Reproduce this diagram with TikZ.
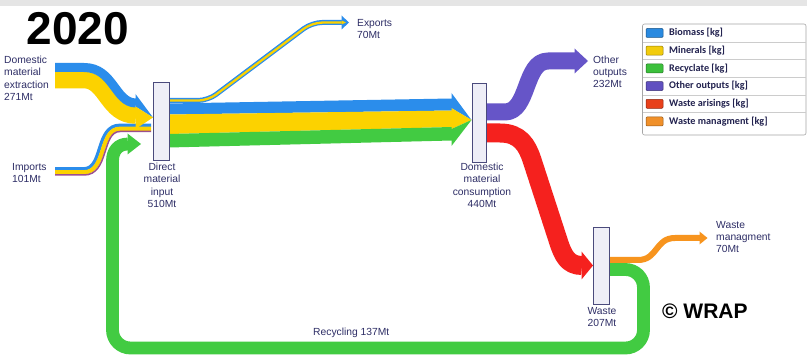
\documentclass[tikz,border=0pt]{standalone}
\usepackage{fontspec}
\setmainfont{Liberation Sans}
\newfontfamily\legfont{Carlito}
\definecolor{cblue}{HTML}{2B8DEB}
\definecolor{cyell}{HTML}{FCD200}
\definecolor{cgreen}{HTML}{42CB42}
\definecolor{cpurp}{HTML}{6655C8}
\definecolor{cimpp}{HTML}{9B4F8F}
\definecolor{cred}{HTML}{F5211E}
\definecolor{corange}{HTML}{F7941E}
\definecolor{ctext}{HTML}{2E2E66}
\definecolor{cboxf}{HTML}{EEEEF7}
\definecolor{cboxd}{HTML}{4A4A7C}
\definecolor{clegt}{HTML}{22224F}
\definecolor{lgblue}{HTML}{2A8AE0}
\definecolor{lgyell}{HTML}{F2CC0C}
\definecolor{lggreen}{HTML}{3CC03C}
\definecolor{lgpurp}{HTML}{6050C0}
\definecolor{lgred}{HTML}{E8401A}
\definecolor{lgorange}{HTML}{F0902A}
\begin{document}
\begin{tikzpicture}[x=1pt,y=-1pt,
  band/.style={line cap=butt, line join=round},
  procbox/.style={draw=cboxd, fill=cboxf, line width=0.9pt, inner sep=0pt},
  lbl/.style={text=ctext, font=\fontsize{10.3}{12.2}\selectfont, inner sep=0pt},
  legtxt/.style={text=clegt, font=\legfont\bfseries\fontsize{10.2}{11}\selectfont, inner sep=0pt, anchor=west},
  swatch/.style={line width=0.5pt, rounded corners=1pt}]
\useasboundingbox (0,0) rectangle (807,355);
\fill[white] (0,0) rectangle (807,355);
\fill[black!10] (0,0) rectangle (807,6.5);

% recycling loop
\draw[band, cgreen, line width=12.8pt] (609,269.5) -- (625.5,269.5) .. controls (635.5,269.5) and (643.5,277.5) .. (643.5,287.5) -- (643.5,330) .. controls (643.5,340) and (635.5,348) .. (625.5,348) -- (130.5,348) .. controls (120.5,348) and (112.5,340) .. (112.5,330) -- (112.5,161) .. controls (112.5,151) and (118,144) .. (128,144);
\fill[cgreen] (127.5,133.5) -- (141,144) -- (127.5,154.5) -- cycle;

% imports
\draw[band, cblue, line width=3.3pt] (55,168.75) -- (84,168.75) .. controls (103.25,168.75) and (95.25,125.25) .. (120,125.25) -- (151,125.25);
\draw[band, cyell, line width=4.2pt] (55,172.25) -- (84,172.25) .. controls (106.75,172.25) and (98.75,128.75) .. (120,128.75) -- (151,128.75);
\draw[band, cimpp, line width=1.5pt] (55,175) -- (84,175) .. controls (109.5,175) and (101.5,131.5) .. (120,131.5) -- (151,131.5);

% domestic extraction
\draw[band, cyell, line width=16.6pt] (55,80) -- (84,80) .. controls (106.3,80) and (107.3,115.5) .. (136,115.5);
\draw[band, cblue, line width=9pt] (55,67.5) -- (84,67.5) .. controls (113.8,67.5) and (114.8,103) .. (136,103);
\fill[cblue] (135.5,94) -- (153,117.5) -- (135.5,106.5) -- cycle;
\fill[cyell] (135.5,106.5) -- (153,117.5) -- (135.5,129) -- cycle;

% exports
\draw[band, cblue, line width=5pt, rounded corners=10pt] (169,100.5) -- (208,100.5) -- (312,22.5) -- (342,22.5);
\draw[band, cyell, line width=2.3pt, rounded corners=10pt] (169,100.6) -- (208,100.6) -- (312,22.6) -- (342,22.6);
\fill[cblue] (341.5,15.5) -- (349,22.5) -- (341.5,29.5) -- cycle;
\fill[cyell] (341.5,20.5) -- (346,22.5) -- (341.5,24.5) -- cycle;

% main flow DMI -> DMC
\fill[cblue] (169,103.5) -- (452,98.5) -- (452,110.5) -- (169,114.5) -- cycle;
\fill[cyell] (169,114.5) -- (452,110.5) -- (452,127) -- (169,134) -- cycle;
\fill[cgreen] (169,134) -- (452,127) -- (452,140.5) -- (169,147.5) -- cycle;
\fill[cblue] (451.5,93) -- (471.5,120) -- (451.5,108.1) -- cycle;
\fill[cyell] (451.5,108.1) -- (471.5,120) -- (451.5,129) -- cycle;
\fill[cgreen] (451.5,129) -- (471.5,120) -- (451.5,146) -- cycle;

% other outputs
\draw[band, cpurp, line width=17pt] (485.5,112) -- (505,112) .. controls (529,112) and (524,61) .. (548,61) -- (575,61);
\fill[cpurp] (574.5,48.5) -- (588,61) -- (574.5,73.5) -- cycle;

% waste arisings
\draw[band, cred, line width=19pt] (485.5,133) -- (500,133) .. controls (520,133) and (527,145) .. (532,160) -- (558,240) .. controls (563,256) and (568,265.5) .. (582,265.5);
\fill[cred] (581.5,251.5) -- (593,265.5) -- (581.5,279.5) -- cycle;

% waste management
\draw[band, corange, line width=6pt] (609,260) -- (638,260) .. controls (658,260) and (655,238) .. (675,238) -- (700,238);
\fill[corange] (699.5,231.5) -- (707.5,238) -- (699.5,244.5) -- cycle;

% process boxes
\node[procbox, minimum width=15.5pt, minimum height=78pt] (dmi) at (161.5,121) {};
\node[procbox, minimum width=14pt, minimum height=79pt] (dmc) at (479,122.5) {};
\node[procbox, minimum width=16pt, minimum height=77pt] (waste) at (601,265.5) {};

% labels
\node[lbl, align=left, anchor=north west] (lde) at (4,56) {Domestic\\material\\extraction\\271Mt};
\node[lbl, align=left, anchor=north west] (limp) at (12,163.5) {Imports\\101Mt};
\node[lbl, align=center, anchor=north] (ldmi) at (162,163) {Direct\\material\\input\\510Mt};
\node[lbl, align=left, anchor=north west] (lexp) at (357,19.5) {Exports\\70Mt};
\node[lbl, align=left, anchor=north west] (loth) at (593,55.5) {Other\\outputs\\232Mt};
\node[lbl, align=center, anchor=north] (ldmc) at (482,163) {Domestic\\material\\consumption\\440Mt};
\node[lbl, align=center, anchor=north] (lwst) at (602,307) {Waste\\207Mt};
\node[lbl, align=left, anchor=north west] (lwm) at (716,221) {Waste\\managment\\70Mt};
\node[lbl, anchor=west] (lrec) at (313,333) {Recycling 137Mt};
\node[font=\bfseries\fontsize{21}{24}\selectfont, anchor=west, inner sep=0pt] (wrap) at (662,311.5) {© WRAP};
\node[font=\bfseries\fontsize{46}{50}\selectfont, anchor=base west, inner sep=0pt] (year) at (26.5,45) {2020};

% legend
\draw[draw=black!35, fill=white, rounded corners=2pt, line width=0.6pt] (642.5,24) rectangle (806,135);
\foreach \yy in {41.9,59.6,77.3,95,112.7} \draw[black!20, line width=0.5pt] (643,\yy) -- (805.5,\yy);
\draw[swatch, fill=lgblue, draw=lgblue!60!black] (646,28.5) rectangle (663,37.5);
\node[legtxt] (lg1) at (669,33) {Biomass [kg]};
\draw[swatch, fill=lgyell, draw=lgyell!60!black] (646,46.2) rectangle (663,55.2);
\node[legtxt] (lg2) at (669,50.7) {Minerals [kg]};
\draw[swatch, fill=lggreen, draw=lggreen!60!black] (646,63.9) rectangle (663,72.9);
\node[legtxt] (lg3) at (669,68.4) {Recyclate [kg]};
\draw[swatch, fill=lgpurp, draw=lgpurp!60!black] (646,81.6) rectangle (663,90.6);
\node[legtxt] (lg4) at (669,86.1) {Other outputs [kg]};
\draw[swatch, fill=lgred, draw=lgred!60!black] (646,99.3) rectangle (663,108.3);
\node[legtxt] (lg5) at (669,103.8) {Waste arisings [kg]};
\draw[swatch, fill=lgorange, draw=lgorange!60!black] (646,117) rectangle (663,126);
\node[legtxt] (lg6) at (669,121.5) {Waste managment [kg]};
\end{tikzpicture}
\end{document}
